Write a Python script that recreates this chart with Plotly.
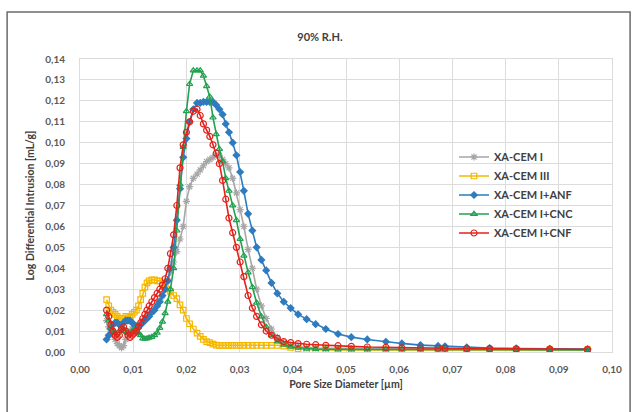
import plotly.graph_objects as go

# Pore diameter grid [µm]
pore_d = [
    0.0050, 0.0054, 0.0058, 0.0062, 0.0066, 0.0070, 0.0074, 0.0078, 0.0082, 0.0086,
    0.0090, 0.0094, 0.0098, 0.0102, 0.0106, 0.0110, 0.0114, 0.0118, 0.0122, 0.0126,
    0.0130, 0.0135, 0.0140, 0.0145, 0.0150, 0.0155, 0.0160, 0.0165, 0.0170, 0.0176,
    0.0182, 0.0188, 0.0194, 0.0200, 0.0206, 0.0213, 0.0220, 0.0226, 0.0232, 0.0238,
    0.0244, 0.0250, 0.0256, 0.0262, 0.0268, 0.0274, 0.0280, 0.0287, 0.0294, 0.0301,
    0.0308, 0.0316, 0.0324, 0.0332, 0.0341, 0.0350, 0.0360, 0.0371, 0.0383, 0.0396,
    0.0410, 0.0426, 0.0443, 0.0462, 0.0485, 0.0510, 0.0540, 0.0575, 0.0605, 0.0640,
    0.0673, 0.0686, 0.0727, 0.0770, 0.0820, 0.0883, 0.0954,
]

cem_i = [
    0.015, 0.012, 0.010, 0.008, 0.006, 0.004, 0.003, 0.002, 0.003, 0.006,
    0.009, 0.010, 0.011, 0.012, 0.012, 0.013, 0.014, 0.015, 0.016, 0.017,
    0.018, 0.019, 0.021, 0.023, 0.025, 0.027, 0.030, 0.034, 0.038, 0.043,
    0.048, 0.054, 0.060, 0.072, 0.079, 0.083, 0.085, 0.087, 0.089, 0.091,
    0.092, 0.093, 0.094, 0.094, 0.092, 0.090, 0.088, 0.083, 0.076, 0.068,
    0.060, 0.049, 0.040, 0.030, 0.022, 0.016, 0.011, 0.007, 0.0045, 0.0032,
    0.0025, 0.0021, 0.0019, 0.0018, 0.0017, 0.0016, 0.0016, 0.0015, 0.0015, 0.0015,
    0.0014, 0.0014, 0.0014, 0.0013, 0.0013, 0.0012, 0.0012,
]

cem_iii = [
    0.025, 0.022, 0.020, 0.019, 0.018, 0.017, 0.016, 0.016, 0.016, 0.017,
    0.017, 0.017, 0.018, 0.019, 0.020, 0.022, 0.025, 0.028, 0.031, 0.033,
    0.034, 0.0345, 0.0345, 0.034, 0.034, 0.033, 0.032, 0.030, 0.029, 0.027,
    0.0255, 0.0225, 0.020, 0.016, 0.0135, 0.011, 0.009, 0.0075, 0.006, 0.005,
    0.0045, 0.0038, 0.0033, 0.0032, 0.0032, 0.0032, 0.0032, 0.0032, 0.0032, 0.0032,
    0.0032, 0.0032, 0.0032, 0.0032, 0.0032, 0.0032, 0.0032, 0.0032, 0.0028, 0.0022,
    0.0015, 0.0012, 0.0010, 0.0010, 0.0010, 0.0010, 0.0010, 0.0010, 0.0010, 0.0010,
    0.0010, 0.0010, 0.0010, 0.0010, 0.0010, 0.0010, 0.0010,
]

cem_i_anf = [
    0.006, 0.008, 0.011, 0.013, 0.014, 0.014, 0.013, 0.013, 0.014, 0.015,
    0.015, 0.015, 0.014, 0.013, 0.012, 0.012, 0.013, 0.014, 0.015, 0.016,
    0.017, 0.019, 0.020, 0.022, 0.024, 0.027, 0.030, 0.034, 0.040, 0.050,
    0.063, 0.078, 0.093, 0.102, 0.110, 0.116, 0.119, 0.119, 0.1195, 0.1195,
    0.1195, 0.1195, 0.118, 0.116, 0.1135, 0.109, 0.105, 0.100, 0.094, 0.086,
    0.077, 0.066, 0.058, 0.050, 0.044, 0.039, 0.033, 0.028, 0.024, 0.021,
    0.018, 0.0157, 0.0133, 0.011, 0.0086, 0.0071, 0.0060, 0.0049, 0.0041, 0.0033,
    0.0029, 0.0027, 0.0022, 0.0019, 0.0017, 0.0015, 0.0014,
]

cem_i_cnc = [
    0.018, 0.015, 0.012, 0.010, 0.009, 0.009, 0.010, 0.011, 0.011, 0.010,
    0.009, 0.009, 0.010, 0.011, 0.010, 0.009, 0.008, 0.0065, 0.0063, 0.0065,
    0.0068, 0.0072, 0.0080, 0.0092, 0.0115, 0.0145, 0.0185, 0.024, 0.030, 0.040,
    0.058, 0.080, 0.098, 0.115, 0.128, 0.1345, 0.1345, 0.1345, 0.132, 0.127,
    0.122, 0.112, 0.104, 0.097, 0.091, 0.083, 0.077, 0.070, 0.063, 0.054,
    0.046, 0.038, 0.031, 0.0235, 0.017, 0.012, 0.008, 0.005, 0.0035, 0.0025,
    0.0020, 0.0016, 0.0014, 0.0013, 0.0012, 0.0012, 0.0012, 0.0012, 0.0012, 0.0012,
    0.0012, 0.0012, 0.0011, 0.0011, 0.0011, 0.0010, 0.0010,
]

cem_i_cnf = [
    0.020, 0.017, 0.013, 0.010, 0.008, 0.007, 0.008, 0.011, 0.012, 0.010,
    0.008, 0.007, 0.008, 0.009, 0.010, 0.012, 0.014, 0.016, 0.018, 0.020,
    0.022, 0.024, 0.026, 0.028, 0.030, 0.032, 0.035, 0.040, 0.047, 0.056,
    0.070, 0.088, 0.099, 0.105, 0.110, 0.115, 0.116, 0.113, 0.109, 0.106,
    0.103, 0.099, 0.095, 0.090, 0.082, 0.073, 0.064, 0.057, 0.050, 0.043,
    0.036, 0.027, 0.021, 0.017, 0.013, 0.010, 0.008, 0.0065, 0.005, 0.0045,
    0.0040, 0.0037, 0.0035, 0.0032, 0.0030, 0.0027, 0.0024, 0.0022, 0.0020, 0.0019,
    0.0018, 0.0018, 0.0017, 0.0016, 0.0015, 0.0014, 0.0013,
]

series_names = ["XA-CEM I", "XA-CEM III", "XA-CEM I+ANF", "XA-CEM I+CNC", "XA-CEM I+CNF"]
series_values = [cem_i, cem_iii, cem_i_anf, cem_i_cnc, cem_i_cnf]
series_colors = ["#a6a6a6", "#f5b800", "#2e7bbf", "#22a150", "#e3221c"]
series_symbols = ["asterisk-open", "square-open", "diamond", "triangle-up-open", "circle-open"]
series_sizes = [6, 5.5, 5, 5.5, 6]

y_ticks = [0.00, 0.01, 0.02, 0.03, 0.04, 0.05, 0.06, 0.07, 0.08, 0.09, 0.10, 0.11, 0.12, 0.13, 0.14]
x_ticks = [0.00, 0.01, 0.02, 0.03, 0.04, 0.05, 0.06, 0.07, 0.08, 0.09, 0.10]

FONT = "Lato"
TXT = "#404040"

fig = go.Figure()
for name, vals, col, sym, sz in zip(series_names, series_values, series_colors, series_symbols, series_sizes):
    fig.add_trace(go.Scatter(
        x=pore_d, y=vals, name=name, mode="lines+markers",
        line=dict(color=col, width=1.6),
        marker=dict(symbol=sym, size=sz, color=col, line=dict(color=col, width=1.2)),
    ))

fig.update_layout(
    width=636, height=412,
    margin=dict(l=80, r=24, t=59, b=60),
    paper_bgcolor="white", plot_bgcolor="white",
    separators=",.",
    showlegend=True,
    font=dict(family=FONT, color=TXT, size=10),
    title=dict(text="90% R.H.", x=0.503, xanchor="center", y=1 - 37 / 412, yanchor="middle",
               yref="container", font=dict(family=FONT, size=11, color=TXT, weight="bold")),
    legend=dict(x=0.703, y=0.715, xanchor="left", yanchor="top", bgcolor="rgba(0,0,0,0)",
                itemwidth=30, font=dict(family=FONT, size=11, color=TXT, weight="bold")),
    shapes=[dict(type="rect", xref="paper", yref="paper", x0=-0.137, x1=1.034, y0=-0.25, y1=1.16,
                 line=dict(color="#6b6b6b", width=1.5), fillcolor="rgba(0,0,0,0)", layer="below")],
)

fig.update_xaxes(
    range=[0, 0.1], tickvals=x_ticks, tickformat=".2f",
    showgrid=True, gridcolor="#dcdcdc", gridwidth=1, zeroline=False,
    showline=True, mirror=True, linecolor="#dcdcdc", linewidth=1,
    ticks="", ticklabelstandoff=8,
    tickfont=dict(family=FONT, size=10, color="#595959", weight="bold"),
    title=dict(text="Pore Size Diameter [µm]", standoff=6,
               font=dict(family=FONT, size=10.5, color=TXT, weight="bold")),
)
fig.update_yaxes(
    range=[0, 0.14], tickvals=y_ticks, tickformat=".2f",
    showgrid=True, gridcolor="#dcdcdc", gridwidth=1, zeroline=False,
    showline=True, mirror=True, linecolor="#dcdcdc", linewidth=1,
    ticks="", ticklabelstandoff=12,
    tickfont=dict(family=FONT, size=10, color="#595959", weight="bold"),
    title=dict(text="Log Differential Intrusion [mL/g]", standoff=8,
               font=dict(family=FONT, size=10.5, color=TXT, weight="bold")),
)

fig.write_html("out.html")
